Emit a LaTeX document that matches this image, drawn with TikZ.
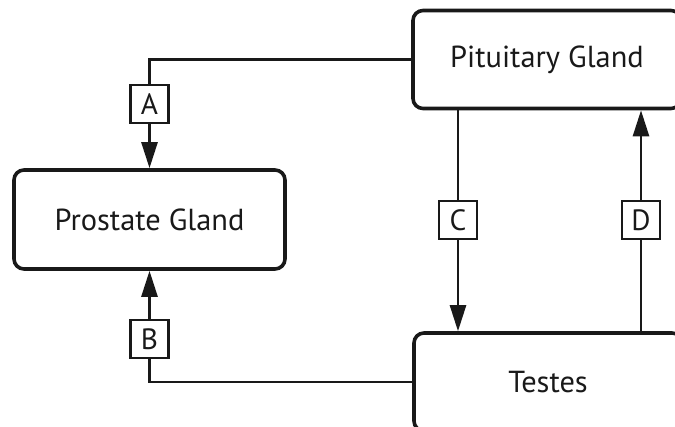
\documentclass[tikz,border=0pt]{standalone}
\usepackage{fontspec}
\setmainfont{PT Sans}
\usetikzlibrary{arrows.meta}
\begin{document}
\begin{tikzpicture}[x=0.75pt,y=-0.75pt,
  organ/.style={draw=black!90, line width=2.7pt, rounded corners=7.5pt, inner sep=0pt,
    minimum width=201pt, minimum height=73.5pt, font=\fontsize{22.8}{26}\selectfont, text=black!90},
  tag/.style={draw=black!90, line width=1.7pt, fill=white, inner sep=0pt,
    minimum width=28.5pt, minimum height=28.5pt, font=\fontsize{22}{26}\selectfont, text=black!90},
  link/.style={draw=black!90, line width=1.9pt},
  arr/.style={link, -{Triangle[length=19.5pt,width=12pt]}}]
\useasboundingbox (0,0) rectangle (675,427);
\clip (0,0) rectangle (675,427);
\node[organ, minimum width=203.25pt, minimum height=74.25pt] (pro) at (149.5,219.5) {Prostate Gland};
\node[organ] (pit) at (547,59.5) {Pituitary Gland};
\node[organ] (tes) at (548,382) {Testes};
\node[tag] (la) at (149.5,104) {A};
\node[tag] (lb) at (149.5,339) {B};
\node[tag] (lc) at (458,220) {C};
\node[tag] (ld) at (641,220) {D};
\draw[link] (pit.west) -| (la.north);
\draw[arr] (la.south) -- (pro.north);
\draw[link] (tes.west) -| (lb.south);
\draw[arr] (lb.north) -- (pro.south);
\draw[link] (pit.south -| lc) -- (lc.north);
\draw[arr] (lc.south) -- (tes.north -| lc);
\draw[link] (tes.north -| ld) -- (ld.south);
\draw[arr] (ld.north) -- (pit.south -| ld);
\end{tikzpicture}
\end{document}
